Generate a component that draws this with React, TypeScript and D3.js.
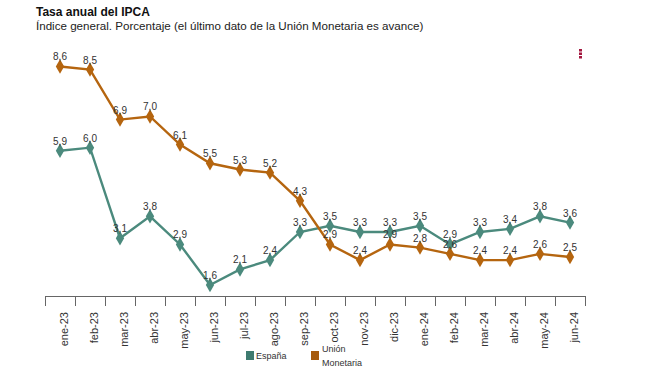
import React, { useEffect, useRef } from "react";
import * as d3 from "d3";

const months = [
  "ene-23", "feb-23", "mar-23", "abr-23", "may-23", "jun-23", "jul-23", "ago-23", "sep-23",
  "oct-23", "nov-23", "dic-23", "ene-24", "feb-24", "mar-24", "abr-24", "may-24", "jun-24",
];
const espana = [5.9, 6.0, 3.1, 3.8, 2.9, 1.6, 2.1, 2.4, 3.3, 3.5, 3.3, 3.3, 3.5, 2.9, 3.3, 3.4, 3.8, 3.6];
const unionMonetaria = [8.6, 8.5, 6.9, 7.0, 6.1, 5.5, 5.3, 5.2, 4.3, 2.9, 2.4, 2.9, 2.8, 2.6, 2.4, 2.4, 2.6, 2.5];

const series = [
  { name: "España", values: espana, line: "#4B8A7D", box: "#3E7B70" },
  { name: "Unión Monetaria", values: unionMonetaria, line: "#B5650F", box: "#A65A0C" },
];

const width = 659;
const height = 371;
const narrow = "'Liberation Sans Narrow', 'Arial Narrow', 'Liberation Sans', Arial, sans-serif";

export default function App() {
  const ref = useRef<SVGSVGElement>(null);

  useEffect(() => {
    document.body.style.margin = "0";
    const svg = d3.select(ref.current);
    svg.selectAll("*").remove();

    const x = d3.scaleBand<string>().domain(months).range([45, 585]);
    const y = d3.scaleLinear().domain([1.25, 9]).range([296, 54]);

    svg.append("text")
      .attr("x", 36).attr("y", 16)
      .attr("font-family", "'Liberation Sans', Arial, sans-serif")
      .attr("font-size", 12).attr("font-weight", "bold").attr("fill", "#111")
      .text("Tasa anual del IPCA");
    svg.append("text")
      .attr("x", 36).attr("y", 30)
      .attr("font-family", "'Liberation Sans', Arial, sans-serif")
      .attr("font-size", 11.6).attr("fill", "#222")
      .text("Índice general. Porcentaje (el último dato de la Unión Monetaria es avance)");

    // menu dots
    [0, 1, 2].forEach((i) => {
      svg.append("rect")
        .attr("x", 579).attr("y", 49 + i * 3.5)
        .attr("width", 3).attr("height", 2.5)
        .attr("fill", "#A3173F");
    });

    // x axis
    const axis = svg.append("g").attr("stroke", "#666").attr("stroke-width", 1);
    axis.append("line")
      .attr("x1", x.range()[0]).attr("x2", x.range()[1])
      .attr("y1", 296.5).attr("y2", 296.5);
    const edges = months.map((m) => x(m)!).concat([x.range()[1]]);
    edges.forEach((e) => {
      axis.append("line")
        .attr("x1", Math.round(e) + 0.5).attr("x2", Math.round(e) + 0.5)
        .attr("y1", 296).attr("y2", 306);
    });
    svg.append("g").selectAll("text")
      .data(months).enter().append("text")
      .attr("transform", (d) => `translate(${x(d)! + x.bandwidth() / 2 + 4}, 312) rotate(-90)`)
      .attr("dy", "0.35em")
      .attr("text-anchor", "end")
      .attr("font-family", "'Liberation Sans', Arial, sans-serif")
      .attr("font-size", 11).attr("fill", "#333")
      .text((d) => d);

    const line = d3.line<number>()
      .x((_, i) => x(months[i])! + x.bandwidth() / 2)
      .y((v) => y(v));
    const diamond = d3.symbol().type(d3.symbolDiamond).size(60);

    series.forEach((s) => {
      const g = svg.append("g");
      g.append("path")
        .attr("d", line(s.values))
        .attr("fill", "none").attr("stroke", s.line).attr("stroke-width", 2.4);
      g.selectAll("path.pt")
        .data(s.values).enter().append("path")
        .attr("class", "pt")
        .attr("d", diamond)
        .attr("transform", (v, i) => `translate(${x(months[i])! + x.bandwidth() / 2}, ${y(v)})`)
        .attr("fill", s.line);
      g.selectAll("text")
        .data(s.values).enter().append("text")
        .attr("x", (_, i) => x(months[i])! + x.bandwidth() / 2)
        .attr("y", (v) => y(v) - 6)
        .attr("text-anchor", "middle")
        .attr("font-family", narrow)
        .attr("font-size", 10).attr("fill", "#333")
        .text((v) => v.toFixed(1).replace(".", ","));
    });

    // legend
    const lg = svg.append("g").attr("font-family", narrow).attr("font-size", 9).attr("fill", "#333");
    lg.append("rect").attr("x", 246).attr("y", 351).attr("width", 8).attr("height", 9).attr("fill", series[0].box);
    lg.append("text").attr("x", 256).attr("y", 359).text("España");
    lg.append("rect").attr("x", 311).attr("y", 351).attr("width", 8).attr("height", 9).attr("fill", series[1].box);
    lg.append("text").attr("x", 322).attr("y", 352).text("Unión");
    lg.append("text").attr("x", 322).attr("y", 366).text("Monetaria");
  }, []);

  return <svg ref={ref} width={width} height={height} style={{ display: "block", background: "#fff" }} />;
}
